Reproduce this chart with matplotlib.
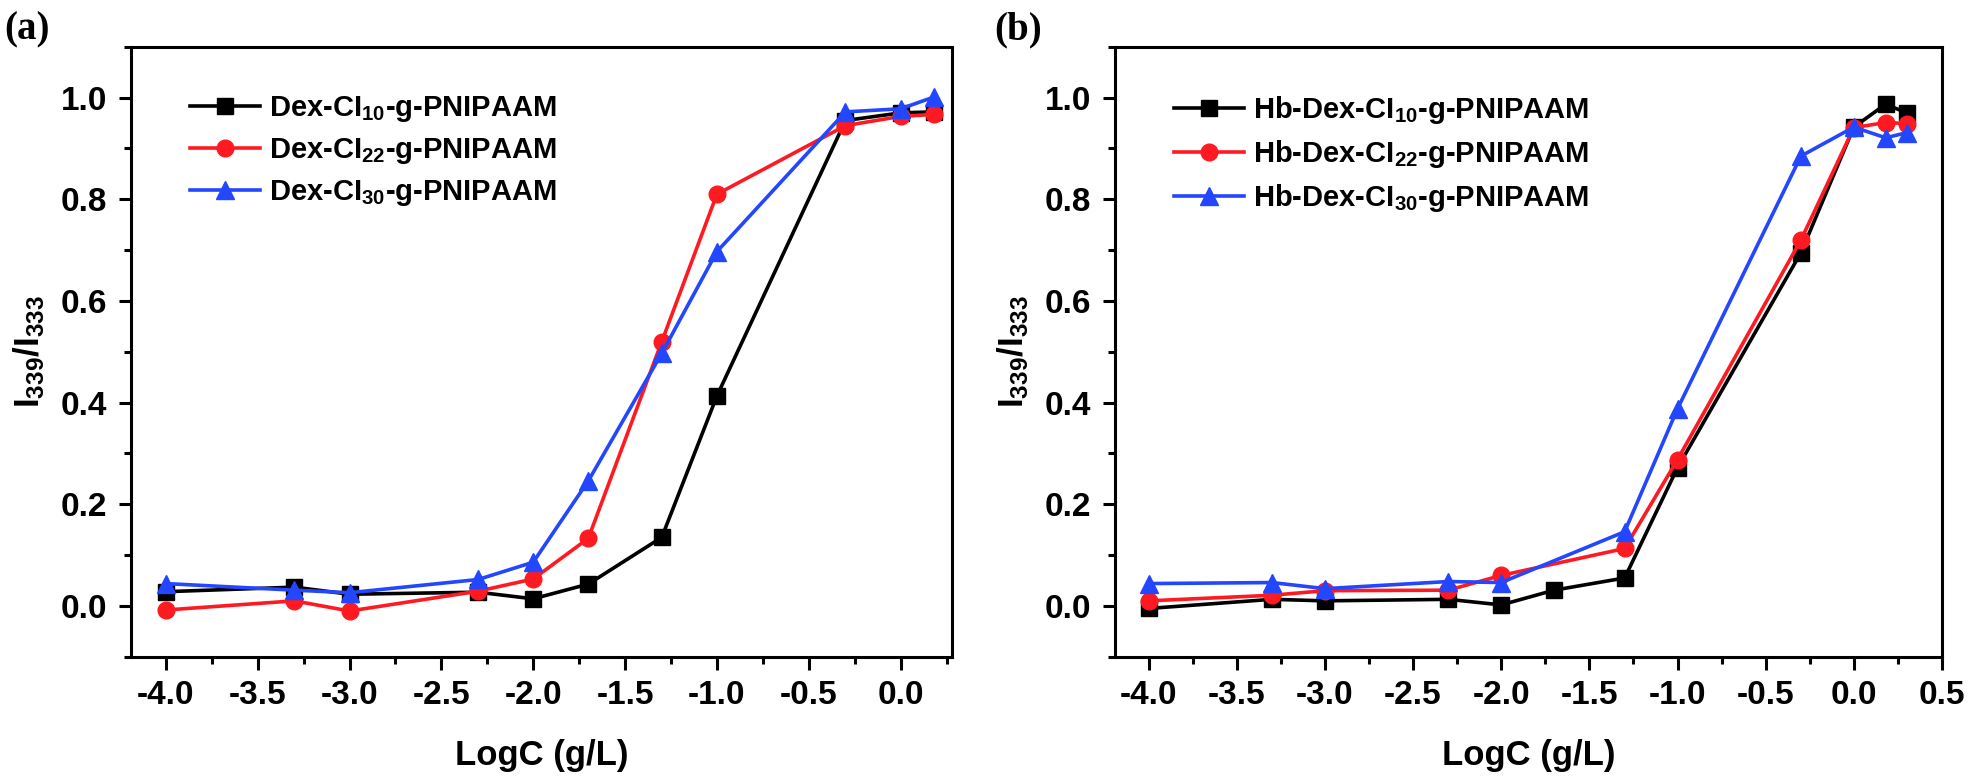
import matplotlib
matplotlib.use('Agg')
import matplotlib.pyplot as plt
from matplotlib.ticker import MultipleLocator, FormatStrFormatter

plt.rcParams['font.family'] = ['Liberation Sans', 'DejaVu Sans']
plt.rcParams['font.weight'] = 'bold'
plt.rcParams['mathtext.fontset'] = 'custom'
plt.rcParams['mathtext.rm'] = 'Liberation Sans:bold'
plt.rcParams['mathtext.it'] = 'Liberation Sans:bold'
plt.rcParams['mathtext.bf'] = 'Liberation Sans:bold'
plt.rcParams['mathtext.default'] = 'rm'

# panel (a)
x_a = [-4.0, -3.3, -3.0, -2.3, -2.0, -1.7, -1.3, -1.0, -0.3, 0.0, 0.18]
a_cl10 = [0.028, 0.037, 0.023, 0.027, 0.014, 0.043, 0.135, 0.413, 0.955, 0.970, 0.972]
a_cl22 = [-0.008, 0.010, -0.010, 0.029, 0.053, 0.133, 0.520, 0.810, 0.945, 0.963, 0.967]
a_cl30 = [0.044, 0.031, 0.026, 0.052, 0.086, 0.246, 0.497, 0.697, 0.972, 0.978, 1.001]

# panel (b)
x_b10 = [-4.0, -3.3, -3.0, -2.3, -2.0, -1.7, -1.3, -1.0, -0.3, 0.0, 0.18, 0.3]
b_cl10 = [-0.005, 0.013, 0.010, 0.013, 0.002, 0.031, 0.055, 0.272, 0.695, 0.942, 0.987, 0.970]
x_b = [-4.0, -3.3, -3.0, -2.3, -2.0, -1.3, -1.0, -0.3, 0.0, 0.18, 0.3]
b_cl22 = [0.010, 0.021, 0.030, 0.031, 0.060, 0.113, 0.288, 0.720, 0.941, 0.951, 0.949]
b_cl30 = [0.044, 0.046, 0.034, 0.048, 0.046, 0.146, 0.388, 0.885, 0.942, 0.921, 0.931]

labels_a = ['Dex-CI$_{10}$-g-PNIPAAM', 'Dex-CI$_{22}$-g-PNIPAAM', 'Dex-CI$_{30}$-g-PNIPAAM']
labels_b = ['Hb-' + s for s in labels_a]

black = '#000000'
red = '#ff1a22'
blue = '#2346ff'

fig = plt.figure(figsize=(19.69, 7.80), dpi=100)
ax1 = fig.add_axes([0.0665, 0.158, 0.417, 0.782])
ax2 = fig.add_axes([0.5663, 0.158, 0.420, 0.782])


def style(ax, xmax):
    ax.set_xlim(-4.19, xmax)
    ax.set_ylim(-0.1, 1.1)
    ax.xaxis.set_major_locator(MultipleLocator(0.5))
    ax.xaxis.set_minor_locator(MultipleLocator(0.25))
    ax.yaxis.set_minor_locator(MultipleLocator(0.1))
    ax.set_yticks([0.0, 0.2, 0.4, 0.6, 0.8, 1.0])
    ax.xaxis.set_major_formatter(FormatStrFormatter('%.1f'))
    ax.yaxis.set_major_formatter(FormatStrFormatter('%.1f'))
    for sp in ax.spines.values():
        sp.set_linewidth(2.2)
    ax.tick_params(which='major', direction='out', length=9, width=2.2, labelsize=24, pad=8)
    ax.tick_params(which='minor', direction='out', length=5, width=2.2)
    ax.tick_params(top=False, right=False, which='both')
    for t in ax.get_xticklabels() + ax.get_yticklabels():
        t.set_fontweight('bold')
    ax.set_xlabel('LogC (g/L)', fontsize=25, fontweight='bold', labelpad=20)
    ax.set_ylabel('I$_{339}$/I$_{333}$', fontsize=25, fontweight='bold', labelpad=10)


lw = 2.6
ax1.plot(x_a, a_cl10, color=black, lw=lw, marker='s', ms=11, label=labels_a[0])
ax1.plot(x_a, a_cl22, color=red, lw=lw, marker='o', ms=12, label=labels_a[1])
ax1.plot(x_a, a_cl30, color=blue, lw=lw, marker='^', ms=13, label=labels_a[2])
style(ax1, 0.28)

ax2.plot(x_b10, b_cl10, color=black, lw=lw, marker='s', ms=11, label=labels_b[0])
ax2.plot(x_b, b_cl22, color=red, lw=lw, marker='o', ms=12, label=labels_b[1])
ax2.plot(x_b, b_cl30, color=blue, lw=lw, marker='^', ms=13, label=labels_b[2])
style(ax2, 0.5)

for ax in (ax1, ax2):
    ax.legend(loc='upper left', bbox_to_anchor=(0.04, 0.965), frameon=False,
              prop={'family': ['Liberation Sans', 'DejaVu Sans'], 'weight': 'bold', 'size': 21},
              handlelength=2.4, handletextpad=0.3, labelspacing=0.4)

fig.text(0.002, 0.985, '(a)', fontsize=28, fontweight='bold', family='Liberation Serif', va='top')
fig.text(0.505, 0.985, '(b)', fontsize=28, fontweight='bold', family='Liberation Serif', va='top')

fig.savefig('out.png', dpi=100)
